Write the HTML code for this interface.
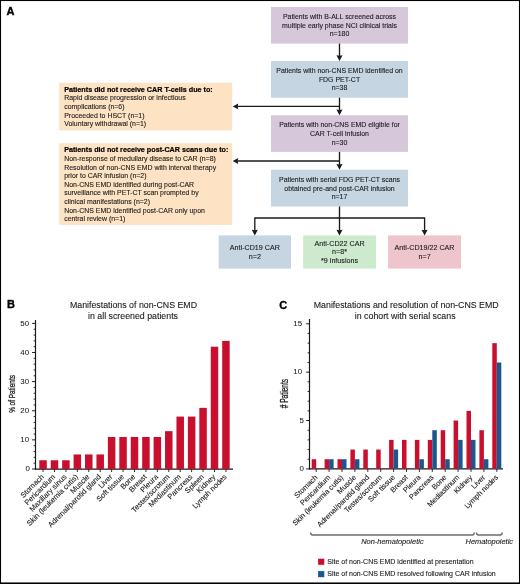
<!DOCTYPE html><html><head><meta charset="utf-8"><style>html,body{margin:0;padding:0;background:#fff;}svg{display:block;will-change:transform;}</style></head><body>
<svg width="520" height="584" viewBox="0 0 520 584" font-family='"Liberation Sans", sans-serif'>
<rect x="0" y="0" width="520" height="584" fill="#fff"/>
<text x="6.60" y="14.70" font-size="11" font-weight="bold" font-style="normal" text-anchor="start" fill="#000" stroke="#000" stroke-width="0.35" >A</text>
<rect x="271" y="7" width="137.00" height="36.60" fill="#d6c8da"/>
<text x="339.50" y="19.13" font-size="6.95" font-weight="normal" font-style="normal" text-anchor="middle" fill="#1a1a1a" stroke="#1a1a1a" stroke-width="0.1" >Patients with B-ALL screened across</text>
<text x="339.50" y="27.75" font-size="6.95" font-weight="normal" font-style="normal" text-anchor="middle" fill="#1a1a1a" stroke="#1a1a1a" stroke-width="0.1" >multiple early phase NCI clinical trials</text>
<text x="339.50" y="36.37" font-size="6.95" font-weight="normal" font-style="normal" text-anchor="middle" fill="#1a1a1a" stroke="#1a1a1a" stroke-width="0.1" >n=180</text>
<rect x="271" y="61" width="137.00" height="36.70" fill="#c5d5e2"/>
<text x="339.50" y="73.18" font-size="6.95" font-weight="normal" font-style="normal" text-anchor="middle" fill="#1a1a1a" stroke="#1a1a1a" stroke-width="0.1" >Patients with non-CNS EMD identified on</text>
<text x="339.50" y="81.80" font-size="6.95" font-weight="normal" font-style="normal" text-anchor="middle" fill="#1a1a1a" stroke="#1a1a1a" stroke-width="0.1" >FDG PET-CT</text>
<text x="339.50" y="90.42" font-size="6.95" font-weight="normal" font-style="normal" text-anchor="middle" fill="#1a1a1a" stroke="#1a1a1a" stroke-width="0.1" >n=38</text>
<rect x="271" y="115.3" width="137.00" height="36.60" fill="#d6c8da"/>
<text x="339.50" y="127.33" font-size="6.95" font-weight="normal" font-style="normal" text-anchor="middle" fill="#1a1a1a" stroke="#1a1a1a" stroke-width="0.1" >Patients with non-CNS EMD eligible for</text>
<text x="339.50" y="135.95" font-size="6.95" font-weight="normal" font-style="normal" text-anchor="middle" fill="#1a1a1a" stroke="#1a1a1a" stroke-width="0.1" >CAR T-cell infusion</text>
<text x="339.50" y="144.57" font-size="6.95" font-weight="normal" font-style="normal" text-anchor="middle" fill="#1a1a1a" stroke="#1a1a1a" stroke-width="0.1" >n=30</text>
<rect x="271" y="169.7" width="137.00" height="36.80" fill="#c5d5e2"/>
<text x="339.50" y="181.93" font-size="6.95" font-weight="normal" font-style="normal" text-anchor="middle" fill="#1a1a1a" stroke="#1a1a1a" stroke-width="0.1" >Patients with serial FDG PET-CT scans</text>
<text x="339.50" y="190.55" font-size="6.95" font-weight="normal" font-style="normal" text-anchor="middle" fill="#1a1a1a" stroke="#1a1a1a" stroke-width="0.1" >obtained pre-and post-CAR infusion</text>
<text x="339.50" y="199.17" font-size="6.95" font-weight="normal" font-style="normal" text-anchor="middle" fill="#1a1a1a" stroke="#1a1a1a" stroke-width="0.1" >n=17</text>
<rect x="218.7" y="235.4" width="72.30" height="33.20" fill="#c5d5e2"/>
<text x="254.85" y="250.14" font-size="7.15" font-weight="normal" font-style="normal" text-anchor="middle" fill="#1a1a1a" stroke="#1a1a1a" stroke-width="0.1" >Anti-CD19 CAR</text>
<text x="254.85" y="258.76" font-size="7.15" font-weight="normal" font-style="normal" text-anchor="middle" fill="#1a1a1a" stroke="#1a1a1a" stroke-width="0.1" >n=2</text>
<rect x="303.1" y="235.4" width="72.90" height="33.20" fill="#cdeacf"/>
<text x="339.55" y="245.83" font-size="7.15" font-weight="normal" font-style="normal" text-anchor="middle" fill="#1a1a1a" stroke="#1a1a1a" stroke-width="0.1" >Anti-CD22 CAR</text>
<text x="339.55" y="254.45" font-size="7.15" font-weight="normal" font-style="normal" text-anchor="middle" fill="#1a1a1a" stroke="#1a1a1a" stroke-width="0.1" >n=8*</text>
<text x="339.55" y="263.07" font-size="7.15" font-weight="normal" font-style="normal" text-anchor="middle" fill="#1a1a1a" stroke="#1a1a1a" stroke-width="0.1" >*9 infusions</text>
<rect x="388.1" y="235.4" width="72.90" height="33.20" fill="#efc5cd"/>
<text x="424.55" y="250.14" font-size="7.15" font-weight="normal" font-style="normal" text-anchor="middle" fill="#1a1a1a" stroke="#1a1a1a" stroke-width="0.1" >Anti-CD19/22 CAR</text>
<text x="424.55" y="258.76" font-size="7.15" font-weight="normal" font-style="normal" text-anchor="middle" fill="#1a1a1a" stroke="#1a1a1a" stroke-width="0.1" >n=7</text>
<rect x="59.2" y="82.7" width="173.00" height="47.70" fill="#fde2c3"/>
<text x="64.20" y="91.70" font-size="7.2" font-weight="bold" font-style="normal" text-anchor="start" fill="#000" stroke="#000" stroke-width="0.2" >Patients did not receive CAR T-cells due to:</text>
<text x="64.20" y="100.35" font-size="6.95" font-weight="normal" font-style="normal" text-anchor="start" fill="#1a1a1a" stroke="#1a1a1a" stroke-width="0.1" >Rapid disease progression or infectious</text>
<text x="64.20" y="109.00" font-size="6.95" font-weight="normal" font-style="normal" text-anchor="start" fill="#1a1a1a" stroke="#1a1a1a" stroke-width="0.1" >complications (n=6)</text>
<text x="64.20" y="117.65" font-size="6.95" font-weight="normal" font-style="normal" text-anchor="start" fill="#1a1a1a" stroke="#1a1a1a" stroke-width="0.1" >Proceeded to HSCT (n=1)</text>
<text x="64.20" y="126.30" font-size="6.95" font-weight="normal" font-style="normal" text-anchor="start" fill="#1a1a1a" stroke="#1a1a1a" stroke-width="0.1" >Voluntary withdrawal (n=1)</text>
<rect x="59.3" y="143.2" width="172.90" height="81.70" fill="#fde2c3"/>
<text x="64.20" y="152.20" font-size="7.2" font-weight="bold" font-style="normal" text-anchor="start" fill="#000" stroke="#000" stroke-width="0.2" >Patients did not receive post-CAR scans due to:</text>
<text x="64.20" y="160.85" font-size="6.95" font-weight="normal" font-style="normal" text-anchor="start" fill="#1a1a1a" stroke="#1a1a1a" stroke-width="0.1" >Non-response of medullary disease to CAR (n=8)</text>
<text x="64.20" y="169.50" font-size="6.95" font-weight="normal" font-style="normal" text-anchor="start" fill="#1a1a1a" stroke="#1a1a1a" stroke-width="0.1" >Resolution of non-CNS EMD with interval therapy</text>
<text x="64.20" y="178.15" font-size="6.95" font-weight="normal" font-style="normal" text-anchor="start" fill="#1a1a1a" stroke="#1a1a1a" stroke-width="0.1" >prior to CAR infusion (n=2)</text>
<text x="64.20" y="186.80" font-size="6.95" font-weight="normal" font-style="normal" text-anchor="start" fill="#1a1a1a" stroke="#1a1a1a" stroke-width="0.1" >Non-CNS EMD identified during post-CAR</text>
<text x="64.20" y="195.45" font-size="6.95" font-weight="normal" font-style="normal" text-anchor="start" fill="#1a1a1a" stroke="#1a1a1a" stroke-width="0.1" >surveillance with PET-CT scan prompted by</text>
<text x="64.20" y="204.10" font-size="6.95" font-weight="normal" font-style="normal" text-anchor="start" fill="#1a1a1a" stroke="#1a1a1a" stroke-width="0.1" >clinical manifestations (n=2)</text>
<text x="64.20" y="212.75" font-size="6.95" font-weight="normal" font-style="normal" text-anchor="start" fill="#1a1a1a" stroke="#1a1a1a" stroke-width="0.1" >Non-CNS EMD identified post-CAR only upon</text>
<text x="64.20" y="221.40" font-size="6.95" font-weight="normal" font-style="normal" text-anchor="start" fill="#1a1a1a" stroke="#1a1a1a" stroke-width="0.1" >central review (n=1)</text>
<line x1="339.5" y1="43.6" x2="339.5" y2="56.3" stroke="#1a1a1a" stroke-width="1.35"/>
<path d="M336.45,55.3 L339.5,55.8 L342.55,55.3 L339.5,61 Z" fill="#1a1a1a"/>
<line x1="339.5" y1="97.7" x2="339.5" y2="110.6" stroke="#1a1a1a" stroke-width="1.35"/>
<path d="M336.45,109.6 L339.5,110.1 L342.55,109.6 L339.5,115.3 Z" fill="#1a1a1a"/>
<line x1="339.5" y1="106.4" x2="237.2" y2="106.4" stroke="#1a1a1a" stroke-width="1.35"/>
<path d="M238.2,103.45 L237.7,106.4 L238.2,109.35000000000001 L232.7,106.4 Z" fill="#1a1a1a"/>
<line x1="339.5" y1="151.9" x2="339.5" y2="165.0" stroke="#1a1a1a" stroke-width="1.35"/>
<path d="M336.45,164.0 L339.5,164.5 L342.55,164.0 L339.5,169.7 Z" fill="#1a1a1a"/>
<line x1="339.5" y1="161.0" x2="237.2" y2="161.0" stroke="#1a1a1a" stroke-width="1.35"/>
<path d="M238.2,158.05 L237.7,161.0 L238.2,163.95 L232.7,161.0 Z" fill="#1a1a1a"/>
<line x1="339.5" y1="206.5" x2="339.5" y2="218" stroke="#1a1a1a" stroke-width="1.35"/>
<line x1="254.8" y1="218" x2="424.6" y2="218" stroke="#1a1a1a" stroke-width="1.35"/>
<path d="M254.8,217.3 V218" stroke="none"/>
<line x1="254.8" y1="217.4" x2="254.8" y2="230.70000000000002" stroke="#1a1a1a" stroke-width="1.35"/>
<path d="M251.75,229.70000000000002 L254.8,230.20000000000002 L257.85,229.70000000000002 L254.8,235.4 Z" fill="#1a1a1a"/>
<line x1="339.5" y1="217.4" x2="339.5" y2="230.70000000000002" stroke="#1a1a1a" stroke-width="1.35"/>
<path d="M336.45,229.70000000000002 L339.5,230.20000000000002 L342.55,229.70000000000002 L339.5,235.4 Z" fill="#1a1a1a"/>
<line x1="424.6" y1="217.4" x2="424.6" y2="230.70000000000002" stroke="#1a1a1a" stroke-width="1.35"/>
<path d="M421.55,229.70000000000002 L424.6,230.20000000000002 L427.65000000000003,229.70000000000002 L424.6,235.4 Z" fill="#1a1a1a"/>
<text x="7.00" y="308.30" font-size="11" font-weight="bold" font-style="normal" text-anchor="start" fill="#000" stroke="#000" stroke-width="0.35" >B</text>
<text x="133.50" y="308.30" font-size="8.8" font-weight="normal" font-style="normal" text-anchor="middle" fill="#1a1a1a" stroke="#1a1a1a" stroke-width="0.1" >Manifestations of non-CNS EMD</text>
<text x="133.00" y="318.50" font-size="8.8" font-weight="normal" font-style="normal" text-anchor="middle" fill="#1a1a1a" stroke="#1a1a1a" stroke-width="0.1" >in all screened patients</text>
<line x1="35.5" y1="320" x2="35.5" y2="469.6" stroke="#1a1a1a" stroke-width="1.2"/>
<line x1="35.0" y1="469.0" x2="233" y2="469.0" stroke="#1a1a1a" stroke-width="1.25"/>
<line x1="32.1" y1="469.00" x2="35.5" y2="469.00" stroke="#1a1a1a" stroke-width="1"/>
<text x="30.00" y="471.45" font-size="7.9" font-weight="normal" font-style="normal" text-anchor="end" fill="#1a1a1a" stroke="#1a1a1a" stroke-width="0.05" >0</text>
<line x1="33.6" y1="463.18" x2="35.5" y2="463.18" stroke="#1a1a1a" stroke-width="0.9"/>
<line x1="33.6" y1="457.35" x2="35.5" y2="457.35" stroke="#1a1a1a" stroke-width="0.9"/>
<line x1="33.6" y1="451.53" x2="35.5" y2="451.53" stroke="#1a1a1a" stroke-width="0.9"/>
<line x1="33.6" y1="445.70" x2="35.5" y2="445.70" stroke="#1a1a1a" stroke-width="0.9"/>
<line x1="32.1" y1="439.88" x2="35.5" y2="439.88" stroke="#1a1a1a" stroke-width="1"/>
<text x="29.10" y="442.33" font-size="7.9" font-weight="normal" font-style="normal" text-anchor="end" fill="#1a1a1a" stroke="#1a1a1a" stroke-width="0.05" >10</text>
<line x1="33.6" y1="434.06" x2="35.5" y2="434.06" stroke="#1a1a1a" stroke-width="0.9"/>
<line x1="33.6" y1="428.23" x2="35.5" y2="428.23" stroke="#1a1a1a" stroke-width="0.9"/>
<line x1="33.6" y1="422.41" x2="35.5" y2="422.41" stroke="#1a1a1a" stroke-width="0.9"/>
<line x1="33.6" y1="416.58" x2="35.5" y2="416.58" stroke="#1a1a1a" stroke-width="0.9"/>
<line x1="32.1" y1="410.76" x2="35.5" y2="410.76" stroke="#1a1a1a" stroke-width="1"/>
<text x="29.10" y="413.21" font-size="7.9" font-weight="normal" font-style="normal" text-anchor="end" fill="#1a1a1a" stroke="#1a1a1a" stroke-width="0.05" >20</text>
<line x1="33.6" y1="404.94" x2="35.5" y2="404.94" stroke="#1a1a1a" stroke-width="0.9"/>
<line x1="33.6" y1="399.11" x2="35.5" y2="399.11" stroke="#1a1a1a" stroke-width="0.9"/>
<line x1="33.6" y1="393.29" x2="35.5" y2="393.29" stroke="#1a1a1a" stroke-width="0.9"/>
<line x1="33.6" y1="387.46" x2="35.5" y2="387.46" stroke="#1a1a1a" stroke-width="0.9"/>
<line x1="32.1" y1="381.64" x2="35.5" y2="381.64" stroke="#1a1a1a" stroke-width="1"/>
<text x="29.10" y="384.09" font-size="7.9" font-weight="normal" font-style="normal" text-anchor="end" fill="#1a1a1a" stroke="#1a1a1a" stroke-width="0.05" >30</text>
<line x1="33.6" y1="375.82" x2="35.5" y2="375.82" stroke="#1a1a1a" stroke-width="0.9"/>
<line x1="33.6" y1="369.99" x2="35.5" y2="369.99" stroke="#1a1a1a" stroke-width="0.9"/>
<line x1="33.6" y1="364.17" x2="35.5" y2="364.17" stroke="#1a1a1a" stroke-width="0.9"/>
<line x1="33.6" y1="358.34" x2="35.5" y2="358.34" stroke="#1a1a1a" stroke-width="0.9"/>
<line x1="32.1" y1="352.52" x2="35.5" y2="352.52" stroke="#1a1a1a" stroke-width="1"/>
<text x="29.10" y="354.97" font-size="7.9" font-weight="normal" font-style="normal" text-anchor="end" fill="#1a1a1a" stroke="#1a1a1a" stroke-width="0.05" >40</text>
<line x1="33.6" y1="346.70" x2="35.5" y2="346.70" stroke="#1a1a1a" stroke-width="0.9"/>
<line x1="33.6" y1="340.87" x2="35.5" y2="340.87" stroke="#1a1a1a" stroke-width="0.9"/>
<line x1="33.6" y1="335.05" x2="35.5" y2="335.05" stroke="#1a1a1a" stroke-width="0.9"/>
<line x1="33.6" y1="329.22" x2="35.5" y2="329.22" stroke="#1a1a1a" stroke-width="0.9"/>
<line x1="32.1" y1="323.40" x2="35.5" y2="323.40" stroke="#1a1a1a" stroke-width="1"/>
<text x="29.10" y="325.85" font-size="7.9" font-weight="normal" font-style="normal" text-anchor="end" fill="#1a1a1a" stroke="#1a1a1a" stroke-width="0.05" >50</text>
<rect x="39.30" y="460.26" width="7.5" height="8.74" fill="#c8102e"/>
<line x1="43.05" y1="469.0" x2="43.05" y2="472.0" stroke="#1a1a1a" stroke-width="0.9"/>
<text x="44.35" y="477.30" font-size="7.5" font-weight="normal" font-style="normal" text-anchor="end" fill="#1a1a1a" stroke="#1a1a1a" stroke-width="0.1" transform="rotate(-45 44.35 477.30)">Stomach</text>
<rect x="50.73" y="460.26" width="7.5" height="8.74" fill="#c8102e"/>
<line x1="54.48" y1="469.0" x2="54.48" y2="472.0" stroke="#1a1a1a" stroke-width="0.9"/>
<text x="55.78" y="477.30" font-size="7.5" font-weight="normal" font-style="normal" text-anchor="end" fill="#1a1a1a" stroke="#1a1a1a" stroke-width="0.1" transform="rotate(-45 55.78 477.30)">Pericardium</text>
<rect x="62.16" y="460.26" width="7.5" height="8.74" fill="#c8102e"/>
<line x1="65.91" y1="469.0" x2="65.91" y2="472.0" stroke="#1a1a1a" stroke-width="0.9"/>
<text x="67.21" y="477.30" font-size="7.5" font-weight="normal" font-style="normal" text-anchor="end" fill="#1a1a1a" stroke="#1a1a1a" stroke-width="0.1" transform="rotate(-45 67.21 477.30)">Maxillary sinus</text>
<rect x="73.59" y="454.44" width="7.5" height="14.56" fill="#c8102e"/>
<line x1="77.34" y1="469.0" x2="77.34" y2="472.0" stroke="#1a1a1a" stroke-width="0.9"/>
<text x="78.64" y="477.30" font-size="7.5" font-weight="normal" font-style="normal" text-anchor="end" fill="#1a1a1a" stroke="#1a1a1a" stroke-width="0.1" transform="rotate(-45 78.64 477.30)">Skin (leukemia cutis)</text>
<rect x="85.02" y="454.44" width="7.5" height="14.56" fill="#c8102e"/>
<line x1="88.77" y1="469.0" x2="88.77" y2="472.0" stroke="#1a1a1a" stroke-width="0.9"/>
<text x="90.07" y="477.30" font-size="7.5" font-weight="normal" font-style="normal" text-anchor="end" fill="#1a1a1a" stroke="#1a1a1a" stroke-width="0.1" transform="rotate(-45 90.07 477.30)">Muscle</text>
<rect x="96.45" y="454.44" width="7.5" height="14.56" fill="#c8102e"/>
<line x1="100.20" y1="469.0" x2="100.20" y2="472.0" stroke="#1a1a1a" stroke-width="0.9"/>
<text x="101.50" y="477.30" font-size="7.5" font-weight="normal" font-style="normal" text-anchor="end" fill="#1a1a1a" stroke="#1a1a1a" stroke-width="0.1" transform="rotate(-45 101.50 477.30)">Adrenal/parotid gland</text>
<rect x="107.88" y="436.97" width="7.5" height="32.03" fill="#c8102e"/>
<line x1="111.63" y1="469.0" x2="111.63" y2="472.0" stroke="#1a1a1a" stroke-width="0.9"/>
<text x="112.93" y="477.30" font-size="7.5" font-weight="normal" font-style="normal" text-anchor="end" fill="#1a1a1a" stroke="#1a1a1a" stroke-width="0.1" transform="rotate(-45 112.93 477.30)">Liver</text>
<rect x="119.31" y="436.97" width="7.5" height="32.03" fill="#c8102e"/>
<line x1="123.06" y1="469.0" x2="123.06" y2="472.0" stroke="#1a1a1a" stroke-width="0.9"/>
<text x="124.36" y="477.30" font-size="7.5" font-weight="normal" font-style="normal" text-anchor="end" fill="#1a1a1a" stroke="#1a1a1a" stroke-width="0.1" transform="rotate(-45 124.36 477.30)">Soft tissue</text>
<rect x="130.74" y="436.97" width="7.5" height="32.03" fill="#c8102e"/>
<line x1="134.49" y1="469.0" x2="134.49" y2="472.0" stroke="#1a1a1a" stroke-width="0.9"/>
<text x="135.79" y="477.30" font-size="7.5" font-weight="normal" font-style="normal" text-anchor="end" fill="#1a1a1a" stroke="#1a1a1a" stroke-width="0.1" transform="rotate(-45 135.79 477.30)">Bone</text>
<rect x="142.17" y="436.97" width="7.5" height="32.03" fill="#c8102e"/>
<line x1="145.92" y1="469.0" x2="145.92" y2="472.0" stroke="#1a1a1a" stroke-width="0.9"/>
<text x="147.22" y="477.30" font-size="7.5" font-weight="normal" font-style="normal" text-anchor="end" fill="#1a1a1a" stroke="#1a1a1a" stroke-width="0.1" transform="rotate(-45 147.22 477.30)">Breast</text>
<rect x="153.60" y="436.97" width="7.5" height="32.03" fill="#c8102e"/>
<line x1="157.35" y1="469.0" x2="157.35" y2="472.0" stroke="#1a1a1a" stroke-width="0.9"/>
<text x="158.65" y="477.30" font-size="7.5" font-weight="normal" font-style="normal" text-anchor="end" fill="#1a1a1a" stroke="#1a1a1a" stroke-width="0.1" transform="rotate(-45 158.65 477.30)">Pleura</text>
<rect x="165.03" y="431.14" width="7.5" height="37.86" fill="#c8102e"/>
<line x1="168.78" y1="469.0" x2="168.78" y2="472.0" stroke="#1a1a1a" stroke-width="0.9"/>
<text x="170.08" y="477.30" font-size="7.5" font-weight="normal" font-style="normal" text-anchor="end" fill="#1a1a1a" stroke="#1a1a1a" stroke-width="0.1" transform="rotate(-45 170.08 477.30)">Testes/scrotum</text>
<rect x="176.46" y="416.58" width="7.5" height="52.42" fill="#c8102e"/>
<line x1="180.21" y1="469.0" x2="180.21" y2="472.0" stroke="#1a1a1a" stroke-width="0.9"/>
<text x="181.51" y="477.30" font-size="7.5" font-weight="normal" font-style="normal" text-anchor="end" fill="#1a1a1a" stroke="#1a1a1a" stroke-width="0.1" transform="rotate(-45 181.51 477.30)">Mediastinum</text>
<rect x="187.89" y="416.58" width="7.5" height="52.42" fill="#c8102e"/>
<line x1="191.64" y1="469.0" x2="191.64" y2="472.0" stroke="#1a1a1a" stroke-width="0.9"/>
<text x="192.94" y="477.30" font-size="7.5" font-weight="normal" font-style="normal" text-anchor="end" fill="#1a1a1a" stroke="#1a1a1a" stroke-width="0.1" transform="rotate(-45 192.94 477.30)">Pancreas</text>
<rect x="199.32" y="407.85" width="7.5" height="61.15" fill="#c8102e"/>
<line x1="203.07" y1="469.0" x2="203.07" y2="472.0" stroke="#1a1a1a" stroke-width="0.9"/>
<text x="204.37" y="477.30" font-size="7.5" font-weight="normal" font-style="normal" text-anchor="end" fill="#1a1a1a" stroke="#1a1a1a" stroke-width="0.1" transform="rotate(-45 204.37 477.30)">Spleen</text>
<rect x="210.75" y="346.70" width="7.5" height="122.30" fill="#c8102e"/>
<line x1="214.50" y1="469.0" x2="214.50" y2="472.0" stroke="#1a1a1a" stroke-width="0.9"/>
<text x="215.80" y="477.30" font-size="7.5" font-weight="normal" font-style="normal" text-anchor="end" fill="#1a1a1a" stroke="#1a1a1a" stroke-width="0.1" transform="rotate(-45 215.80 477.30)">Kidney</text>
<rect x="222.18" y="340.87" width="7.5" height="128.13" fill="#c8102e"/>
<line x1="225.93" y1="469.0" x2="225.93" y2="472.0" stroke="#1a1a1a" stroke-width="0.9"/>
<text x="227.23" y="477.30" font-size="7.5" font-weight="normal" font-style="normal" text-anchor="end" fill="#1a1a1a" stroke="#1a1a1a" stroke-width="0.1" transform="rotate(-45 227.23 477.30)">Lymph nodes</text>
<text x="0" y="0" font-size="9.8" text-anchor="middle" fill="#1a1a1a" stroke="#1a1a1a" stroke-width="0.3" transform="translate(14.9 394) rotate(-90) scale(0.655 1)">% of Patients</text>
<text x="279.30" y="308.60" font-size="11" font-weight="bold" font-style="normal" text-anchor="start" fill="#000" stroke="#000" stroke-width="0.35" >C</text>
<text x="406.20" y="308.30" font-size="8.8" font-weight="normal" font-style="normal" text-anchor="middle" fill="#1a1a1a" stroke="#1a1a1a" stroke-width="0.1" >Manifestations and resolution of non-CNS EMD</text>
<text x="405.20" y="318.50" font-size="8.8" font-weight="normal" font-style="normal" text-anchor="middle" fill="#1a1a1a" stroke="#1a1a1a" stroke-width="0.1" >in cohort with serial scans</text>
<line x1="309.5" y1="319" x2="309.5" y2="469.5" stroke="#1a1a1a" stroke-width="1.2"/>
<line x1="309.0" y1="468.9" x2="503" y2="468.9" stroke="#1a1a1a" stroke-width="1.25"/>
<line x1="306.2" y1="468.90" x2="309.5" y2="468.90" stroke="#1a1a1a" stroke-width="1"/>
<text x="304.00" y="471.20" font-size="7.9" font-weight="normal" font-style="normal" text-anchor="end" fill="#1a1a1a" stroke="#1a1a1a" stroke-width="0.05" >0</text>
<line x1="307.6" y1="459.23" x2="309.5" y2="459.23" stroke="#1a1a1a" stroke-width="0.9"/>
<line x1="307.6" y1="449.55" x2="309.5" y2="449.55" stroke="#1a1a1a" stroke-width="0.9"/>
<line x1="307.6" y1="439.88" x2="309.5" y2="439.88" stroke="#1a1a1a" stroke-width="0.9"/>
<line x1="307.6" y1="430.21" x2="309.5" y2="430.21" stroke="#1a1a1a" stroke-width="0.9"/>
<line x1="306.2" y1="420.53" x2="309.5" y2="420.53" stroke="#1a1a1a" stroke-width="1"/>
<text x="304.00" y="422.83" font-size="7.9" font-weight="normal" font-style="normal" text-anchor="end" fill="#1a1a1a" stroke="#1a1a1a" stroke-width="0.05" >5</text>
<line x1="307.6" y1="410.86" x2="309.5" y2="410.86" stroke="#1a1a1a" stroke-width="0.9"/>
<line x1="307.6" y1="401.19" x2="309.5" y2="401.19" stroke="#1a1a1a" stroke-width="0.9"/>
<line x1="307.6" y1="391.52" x2="309.5" y2="391.52" stroke="#1a1a1a" stroke-width="0.9"/>
<line x1="307.6" y1="381.84" x2="309.5" y2="381.84" stroke="#1a1a1a" stroke-width="0.9"/>
<line x1="306.2" y1="372.17" x2="309.5" y2="372.17" stroke="#1a1a1a" stroke-width="1"/>
<text x="302.10" y="374.47" font-size="7.9" font-weight="normal" font-style="normal" text-anchor="end" fill="#1a1a1a" stroke="#1a1a1a" stroke-width="0.05" >10</text>
<line x1="307.6" y1="362.50" x2="309.5" y2="362.50" stroke="#1a1a1a" stroke-width="0.9"/>
<line x1="307.6" y1="352.82" x2="309.5" y2="352.82" stroke="#1a1a1a" stroke-width="0.9"/>
<line x1="307.6" y1="343.15" x2="309.5" y2="343.15" stroke="#1a1a1a" stroke-width="0.9"/>
<line x1="307.6" y1="333.48" x2="309.5" y2="333.48" stroke="#1a1a1a" stroke-width="0.9"/>
<line x1="306.2" y1="323.80" x2="309.5" y2="323.80" stroke="#1a1a1a" stroke-width="1"/>
<text x="302.10" y="326.10" font-size="7.9" font-weight="normal" font-style="normal" text-anchor="end" fill="#1a1a1a" stroke="#1a1a1a" stroke-width="0.05" >15</text>
<rect x="311.70" y="459.23" width="4.5" height="9.67" fill="#c8102e"/>
<line x1="316.20" y1="468.9" x2="316.20" y2="471.9" stroke="#1a1a1a" stroke-width="0.9"/>
<text x="318.00" y="477.90" font-size="7.4" font-weight="normal" font-style="normal" text-anchor="end" fill="#1a1a1a" stroke="#1a1a1a" stroke-width="0.1" transform="rotate(-45 318.00 477.90)">Stomach</text>
<rect x="324.60" y="459.23" width="4.5" height="9.67" fill="#c8102e"/>
<rect x="329.10" y="459.23" width="4.5" height="9.67" fill="#1a5690"/>
<line x1="329.10" y1="468.9" x2="329.10" y2="471.9" stroke="#1a1a1a" stroke-width="0.9"/>
<text x="330.90" y="477.90" font-size="7.4" font-weight="normal" font-style="normal" text-anchor="end" fill="#1a1a1a" stroke="#1a1a1a" stroke-width="0.1" transform="rotate(-45 330.90 477.90)">Pericardium</text>
<rect x="337.50" y="459.23" width="4.5" height="9.67" fill="#c8102e"/>
<rect x="342.00" y="459.23" width="4.5" height="9.67" fill="#1a5690"/>
<line x1="342.00" y1="468.9" x2="342.00" y2="471.9" stroke="#1a1a1a" stroke-width="0.9"/>
<text x="343.80" y="477.90" font-size="7.4" font-weight="normal" font-style="normal" text-anchor="end" fill="#1a1a1a" stroke="#1a1a1a" stroke-width="0.1" transform="rotate(-45 343.80 477.90)">Skin (leukemia cutis)</text>
<rect x="350.40" y="449.55" width="4.5" height="19.35" fill="#c8102e"/>
<rect x="354.90" y="459.23" width="4.5" height="9.67" fill="#1a5690"/>
<line x1="354.90" y1="468.9" x2="354.90" y2="471.9" stroke="#1a1a1a" stroke-width="0.9"/>
<text x="356.70" y="477.90" font-size="7.4" font-weight="normal" font-style="normal" text-anchor="end" fill="#1a1a1a" stroke="#1a1a1a" stroke-width="0.1" transform="rotate(-45 356.70 477.90)">Muscle</text>
<rect x="363.30" y="449.55" width="4.5" height="19.35" fill="#c8102e"/>
<line x1="367.80" y1="468.9" x2="367.80" y2="471.9" stroke="#1a1a1a" stroke-width="0.9"/>
<text x="369.60" y="477.90" font-size="7.4" font-weight="normal" font-style="normal" text-anchor="end" fill="#1a1a1a" stroke="#1a1a1a" stroke-width="0.1" transform="rotate(-45 369.60 477.90)">Adrenal/parotid gland</text>
<rect x="376.20" y="449.55" width="4.5" height="19.35" fill="#c8102e"/>
<line x1="380.70" y1="468.9" x2="380.70" y2="471.9" stroke="#1a1a1a" stroke-width="0.9"/>
<text x="382.50" y="477.90" font-size="7.4" font-weight="normal" font-style="normal" text-anchor="end" fill="#1a1a1a" stroke="#1a1a1a" stroke-width="0.1" transform="rotate(-45 382.50 477.90)">Testes/scrotum</text>
<rect x="389.10" y="439.88" width="4.5" height="29.02" fill="#c8102e"/>
<rect x="393.60" y="449.55" width="4.5" height="19.35" fill="#1a5690"/>
<line x1="393.60" y1="468.9" x2="393.60" y2="471.9" stroke="#1a1a1a" stroke-width="0.9"/>
<text x="395.40" y="477.90" font-size="7.4" font-weight="normal" font-style="normal" text-anchor="end" fill="#1a1a1a" stroke="#1a1a1a" stroke-width="0.1" transform="rotate(-45 395.40 477.90)">Soft tissue</text>
<rect x="402.00" y="439.88" width="4.5" height="29.02" fill="#c8102e"/>
<line x1="406.50" y1="468.9" x2="406.50" y2="471.9" stroke="#1a1a1a" stroke-width="0.9"/>
<text x="408.30" y="477.90" font-size="7.4" font-weight="normal" font-style="normal" text-anchor="end" fill="#1a1a1a" stroke="#1a1a1a" stroke-width="0.1" transform="rotate(-45 408.30 477.90)">Breast</text>
<rect x="414.90" y="439.88" width="4.5" height="29.02" fill="#c8102e"/>
<rect x="419.40" y="459.23" width="4.5" height="9.67" fill="#1a5690"/>
<line x1="419.40" y1="468.9" x2="419.40" y2="471.9" stroke="#1a1a1a" stroke-width="0.9"/>
<text x="421.20" y="477.90" font-size="7.4" font-weight="normal" font-style="normal" text-anchor="end" fill="#1a1a1a" stroke="#1a1a1a" stroke-width="0.1" transform="rotate(-45 421.20 477.90)">Pleura</text>
<rect x="427.80" y="439.88" width="4.5" height="29.02" fill="#c8102e"/>
<rect x="432.30" y="430.21" width="4.5" height="38.69" fill="#1a5690"/>
<line x1="432.30" y1="468.9" x2="432.30" y2="471.9" stroke="#1a1a1a" stroke-width="0.9"/>
<text x="434.10" y="477.90" font-size="7.4" font-weight="normal" font-style="normal" text-anchor="end" fill="#1a1a1a" stroke="#1a1a1a" stroke-width="0.1" transform="rotate(-45 434.10 477.90)">Pancreas</text>
<rect x="440.70" y="430.21" width="4.5" height="38.69" fill="#c8102e"/>
<rect x="445.20" y="459.23" width="4.5" height="9.67" fill="#1a5690"/>
<line x1="445.20" y1="468.9" x2="445.20" y2="471.9" stroke="#1a1a1a" stroke-width="0.9"/>
<text x="447.00" y="477.90" font-size="7.4" font-weight="normal" font-style="normal" text-anchor="end" fill="#1a1a1a" stroke="#1a1a1a" stroke-width="0.1" transform="rotate(-45 447.00 477.90)">Bone</text>
<rect x="453.60" y="420.53" width="4.5" height="48.37" fill="#c8102e"/>
<rect x="458.10" y="439.88" width="4.5" height="29.02" fill="#1a5690"/>
<line x1="458.10" y1="468.9" x2="458.10" y2="471.9" stroke="#1a1a1a" stroke-width="0.9"/>
<text x="459.90" y="477.90" font-size="7.4" font-weight="normal" font-style="normal" text-anchor="end" fill="#1a1a1a" stroke="#1a1a1a" stroke-width="0.1" transform="rotate(-45 459.90 477.90)">Mediastinum</text>
<rect x="466.50" y="410.86" width="4.5" height="58.04" fill="#c8102e"/>
<rect x="471.00" y="439.88" width="4.5" height="29.02" fill="#1a5690"/>
<line x1="471.00" y1="468.9" x2="471.00" y2="471.9" stroke="#1a1a1a" stroke-width="0.9"/>
<text x="472.80" y="477.90" font-size="7.4" font-weight="normal" font-style="normal" text-anchor="end" fill="#1a1a1a" stroke="#1a1a1a" stroke-width="0.1" transform="rotate(-45 472.80 477.90)">Kidney</text>
<rect x="479.40" y="430.21" width="4.5" height="38.69" fill="#c8102e"/>
<rect x="483.90" y="459.23" width="4.5" height="9.67" fill="#1a5690"/>
<line x1="483.90" y1="468.9" x2="483.90" y2="471.9" stroke="#1a1a1a" stroke-width="0.9"/>
<text x="485.70" y="477.90" font-size="7.4" font-weight="normal" font-style="normal" text-anchor="end" fill="#1a1a1a" stroke="#1a1a1a" stroke-width="0.1" transform="rotate(-45 485.70 477.90)">Liver</text>
<rect x="492.30" y="343.15" width="4.5" height="125.75" fill="#c8102e"/>
<rect x="496.80" y="362.50" width="4.5" height="106.40" fill="#1a5690"/>
<line x1="496.80" y1="468.9" x2="496.80" y2="471.9" stroke="#1a1a1a" stroke-width="0.9"/>
<text x="498.60" y="477.90" font-size="7.4" font-weight="normal" font-style="normal" text-anchor="end" fill="#1a1a1a" stroke="#1a1a1a" stroke-width="0.1" transform="rotate(-45 498.60 477.90)">Lymph nodes</text>
<text x="0" y="0" font-size="10" text-anchor="middle" fill="#1a1a1a" stroke="#1a1a1a" stroke-width="0.3" transform="translate(287.9 393.6) rotate(-90) scale(0.665 1)"># Patients</text>
<path d="M310.6,532.6 Q310.6,535 312.6,535 H472.3 Q474.3,535 474.3,532.6" fill="none" stroke="#6c6c6c" stroke-width="1.45"/>
<path d="M476.5,532.6 Q476.5,535 478.5,535 H500.2 Q502.2,535 502.2,532.6" fill="none" stroke="#6c6c6c" stroke-width="1.45"/>
<text x="392.40" y="543.50" font-size="7.45" font-weight="normal" font-style="italic" text-anchor="middle" fill="#1a1a1a" stroke="#1a1a1a" stroke-width="0.1" >Non-hematopoietic</text>
<text x="489.30" y="543.50" font-size="7.45" font-weight="normal" font-style="italic" text-anchor="middle" fill="#1a1a1a" stroke="#1a1a1a" stroke-width="0.1" >Hematopoietic</text>
<rect x="318.1" y="558.7" width="6.2" height="6.1" fill="#c8102e"/>
<text x="327.30" y="564.20" font-size="7.0" font-weight="normal" font-style="normal" text-anchor="start" fill="#1a1a1a" stroke="#1a1a1a" stroke-width="0.1" >Site of non-CNS EMD identified at presentation</text>
<rect x="318.1" y="571.1" width="6.2" height="6.1" fill="#1a5690"/>
<text x="327.30" y="576.40" font-size="7.0" font-weight="normal" font-style="normal" text-anchor="start" fill="#1a1a1a" stroke="#1a1a1a" stroke-width="0.1" >Site of non-CNS EMD resolved following CAR infusion</text>
<rect x="0.5" y="0.5" width="519" height="582.8" fill="none" stroke="#000" stroke-width="1.1"/>
<rect x="0" y="582.6" width="520" height="1.4" fill="#000"/>
</svg></body></html>
